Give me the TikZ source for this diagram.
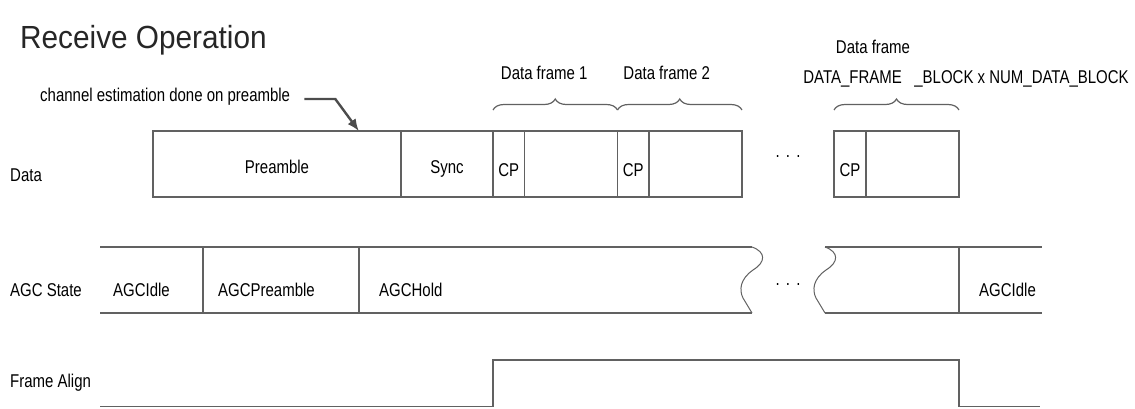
\documentclass[tikz,border=0pt]{standalone}
\usepackage{fontspec}
\setmainfont{Liberation Sans}
\newfontfamily\titlefont[FakeStretch=0.93]{Liberation Sans}
\newfontfamily\labelfont[FakeStretch=0.81]{Liberation Sans}
\usetikzlibrary{positioning,calc,arrows.meta,decorations.pathreplacing}
\definecolor{linegray}{gray}{0.38}
\tikzset{
  sig/.style={draw=linegray,line width=1.3pt},
  cell/.style={draw=linegray,line width=1.3pt,minimum height=66pt,inner sep=0pt,outer sep=0pt,
    font=\labelfont\fontsize{18.5}{20}\selectfont},
  lbl/.style={inner sep=0pt,font=\labelfont\fontsize{18.5}{20}\selectfont},
  framebrace/.style={draw=linegray,line width=1.2pt,decorate,decoration={brace,amplitude=11pt}},
  pointer/.style={draw=black!70,line width=2.4pt,-{Latex[length=12pt,width=10pt]}}
}
\newcommand*{\AgcTop}{247}
\newcommand*{\AgcBot}{313}
\newcommand*{\Low}[2]{\raisebox{-#1}[0pt][0pt]{#2}}

\begin{document}
\begin{tikzpicture}[x=1pt,y=-1pt]
\useasboundingbox (0,0) rectangle (1135,408);
\node[inner sep=0pt,anchor=west,font=\titlefont\fontsize{32}{34}\selectfont,text=black!85] (title) at (20,40) {Receive Operation};
\node[lbl,anchor=west] (chan) at (40,97) {channel estimation done on preamble};

% row labels
\node[lbl,anchor=west] (dataLbl) at (10,175) {Data};
\node[lbl,anchor=west] (agcLbl) at (10,290) {AGC State};
\node[lbl,anchor=west] (alignLbl) at (10,383) {Frame Align};

% data row
\node[cell,anchor=west,minimum width=248pt] (pre) at (153,164) {\Low{9.5pt}{Preamble}};
\node[cell,minimum width=92pt,right=0pt of pre] (sync) {\Low{9.5pt}{Sync}};
\foreach \i/\prev in {1/sync,2/d1} {%
    \node[cell,minimum width=31.5pt,right=0pt of \prev] (cp\i) {\Low{12.5pt}{CP}};
    \node[cell,minimum width=93pt,right=0pt of cp\i] (d\i) {};
}
\node[cell,anchor=west,minimum width=32pt] (cp3) at (834,164) {\Low{12.5pt}{CP}};
\node[cell,minimum width=93pt,right=0pt of cp3] (d3) {};
\node[lbl,yshift=7pt] (gapData) at ($(d2.east)!0.5!(cp3.west)$) {.\,\,.\,\,.};

\draw[pointer] ([xshift=14pt,yshift=-2pt]chan.east) -- ++(31,0) -- ($(pre.north west)!0.83!(pre.north east)$);

% braces over the frames
\draw[framebrace] ([yshift=21pt]cp1.north west) -- ([yshift=21pt]d1.north east)
    node[lbl,midway,above=30pt,xshift=-11pt] (frA) {Data frame 1};
\draw[framebrace] ([yshift=21pt]cp2.north west) -- ([yshift=21pt]d2.north east)
    node[lbl,midway,above=30pt,xshift=-13pt] (frB) {Data frame 2};
\draw[framebrace] ([yshift=21pt]cp3.north west) -- ([yshift=21pt]d3.north east);
\node[lbl] (frC2) at (966,79) {DATA\_FRAME\ \ \ \_BLOCK x NUM\_DATA\_BLOCK};
\node[lbl] (frC1) at (873,47) {Data frame};

% AGC state row
\draw[sig] (752,\AgcTop) -- (100,\AgcTop);
\draw[sig] (100,\AgcBot) -- (752,\AgcBot);
\draw[sig] (825,\AgcTop) -- (1042,\AgcTop);
\draw[sig] (825,\AgcBot) -- (1042,\AgcBot);
\foreach \bx in {752,825} {%
    \draw[sig,line width=1pt] (\bx,\AgcTop) .. controls (\bx+14,252) and (\bx+14,262) .. (\bx+1,270)
        .. controls (\bx-12,279) and (\bx-13,290) .. (\bx-9,298) -- (\bx,\AgcBot);
}
\foreach \dx in {203,359,959} {%
    \draw[sig] (\dx,\AgcTop) -- (\dx,\AgcBot);
}
\node[lbl,anchor=west] (agcA) at (113,290) {AGCIdle};
\node[lbl,anchor=west] (agcB) at (218,290) {AGCPreamble};
\node[lbl,anchor=west] (agcC) at (379,290) {AGCHold};
\node[lbl,anchor=west] (agcD) at (979,290) {AGCIdle};
\node[lbl] (gapAgc) at (788,285) {.\,\,.\,\,.};

% frame align
\coordinate (fhi) at (0,360);
\draw[sig] (100,406.5) -| (cp1.west |- fhi) -- (d3.east |- fhi) |- (1040,406.5);

\end{tikzpicture}
\end{document}
